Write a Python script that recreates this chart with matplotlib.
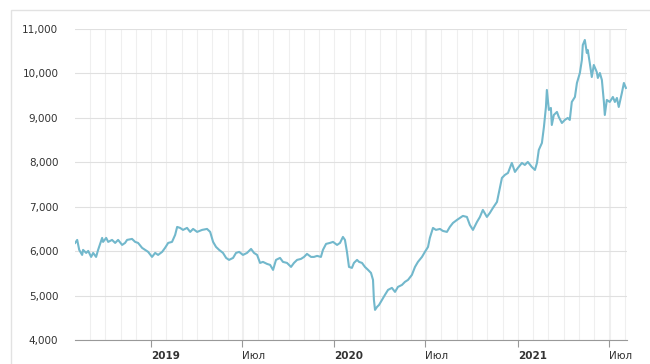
import matplotlib
matplotlib.use("Agg")
import matplotlib.pyplot as plt
from matplotlib.patches import Rectangle
from matplotlib.ticker import FixedLocator, FuncFormatter

# price series (x in decimal years)
years = [2018.586, 2018.597, 2018.608, 2018.624, 2018.629, 2018.646, 2018.657, 2018.673,
         2018.684, 2018.700, 2018.711, 2018.733, 2018.738, 2018.755, 2018.766, 2018.787,
         2018.804, 2018.820, 2018.842, 2018.858, 2018.869, 2018.896, 2018.913, 2018.929,
         2018.951, 2018.967, 2018.984, 2019.005, 2019.022, 2019.038, 2019.060, 2019.076,
         2019.093, 2019.114, 2019.131, 2019.142, 2019.158, 2019.174, 2019.196, 2019.213,
         2019.229, 2019.251, 2019.278, 2019.305, 2019.322, 2019.338, 2019.354, 2019.371,
         2019.392, 2019.409, 2019.425, 2019.447, 2019.463, 2019.480, 2019.501, 2019.523,
         2019.545, 2019.561, 2019.578, 2019.594, 2019.610, 2019.632, 2019.649, 2019.665,
         2019.681, 2019.703, 2019.719, 2019.741, 2019.763, 2019.779, 2019.796, 2019.817,
         2019.834, 2019.850, 2019.872, 2019.888, 2019.905, 2019.926, 2019.937, 2019.954,
         2019.975, 2019.992, 2020.014, 2020.030, 2020.046, 2020.057, 2020.068, 2020.079,
         2020.095, 2020.106, 2020.123, 2020.134, 2020.150, 2020.166, 2020.183, 2020.199,
         2020.210, 2020.215, 2020.221, 2020.232, 2020.243, 2020.259, 2020.275, 2020.292,
         2020.313, 2020.330, 2020.346, 2020.368, 2020.384, 2020.401, 2020.422, 2020.439,
         2020.455, 2020.477, 2020.493, 2020.510, 2020.520, 2020.537, 2020.553, 2020.575,
         2020.591, 2020.613, 2020.629, 2020.646, 2020.668, 2020.684, 2020.700, 2020.722,
         2020.738, 2020.755, 2020.777, 2020.793, 2020.809, 2020.831, 2020.847, 2020.864,
         2020.886, 2020.896, 2020.913, 2020.929, 2020.946, 2020.967, 2020.984, 2021.000,
         2021.022, 2021.038, 2021.054, 2021.076, 2021.093, 2021.104, 2021.114, 2021.131,
         2021.142, 2021.153, 2021.158, 2021.169, 2021.180, 2021.185, 2021.196, 2021.213,
         2021.223, 2021.240, 2021.256, 2021.272, 2021.283, 2021.294, 2021.311, 2021.322,
         2021.338, 2021.349, 2021.354, 2021.365, 2021.376, 2021.381, 2021.392, 2021.403,
         2021.414, 2021.430, 2021.436, 2021.447, 2021.458, 2021.469, 2021.474, 2021.485,
         2021.501, 2021.518, 2021.529, 2021.540, 2021.550, 2021.567, 2021.578, 2021.589]
prices = [6185, 6253, 6028, 5915, 6028, 5960, 6005, 5870,
          5960, 5870, 6028, 6298, 6208, 6298, 6208, 6253,
          6185, 6253, 6140, 6185, 6253, 6275, 6208, 6185,
          6073, 6028, 5983, 5870, 5960, 5915, 5983, 6073,
          6185, 6208, 6365, 6545, 6523, 6478, 6523, 6433,
          6500, 6433, 6478, 6500, 6433, 6208, 6095, 6028,
          5960, 5848, 5803, 5848, 5960, 5983, 5915, 5960,
          6050, 5960, 5915, 5735, 5758, 5713, 5690, 5578,
          5803, 5848, 5758, 5735, 5645, 5735, 5803, 5825,
          5870, 5938, 5870, 5870, 5893, 5870, 6028, 6163,
          6185, 6208, 6140, 6185, 6320, 6253, 5983, 5645,
          5623, 5735, 5803, 5758, 5735, 5645, 5578, 5510,
          5353, 4903, 4678, 4745, 4790, 4903, 5015, 5128,
          5173, 5083, 5195, 5240, 5308, 5353, 5465, 5645,
          5758, 5870, 5983, 6095, 6298, 6523, 6478, 6500,
          6455, 6433, 6545, 6635, 6703, 6748, 6793, 6770,
          6590, 6478, 6658, 6770, 6928, 6770, 6860, 6973,
          7108, 7310, 7648, 7715, 7760, 7985, 7783, 7873,
          7985, 7940, 8008, 7895, 7828, 7985, 8278, 8435,
          8795, 9245, 9628, 9178, 9223, 8840, 9065, 9133,
          9020, 8885, 8953, 8998, 8953, 9358, 9470, 9785,
          10010, 10303, 10640, 10753, 10460, 10528, 10235, 9920,
          10190, 10033, 9898, 10010, 9853, 9358, 9065, 9403,
          9358, 9470, 9358, 9448, 9245, 9560, 9785, 9673]

y_ticks = [4000, 5000, 6000, 7000, 8000, 9000, 10000, 11000]
x_ticks = [2019.0, 2019.496, 2020.0, 2020.496, 2021.0, 2021.496]
x_labels = ["2019", "Июл", "2020", "Июл", "2021", "Июл"]

LINE = "#72b8cc"
TXT = "#333333"

fig = plt.figure(figsize=(6.5, 3.64), dpi=100, facecolor="white")
# outer frame of the widget
fig.patches.append(Rectangle((11 / 650, -0.05), 1.0, 1.05 - 10 / 364,
                             transform=fig.transFigure, fill=False,
                             edgecolor="#e2e2e2", lw=1.0))

ax = fig.add_axes([75 / 650, 1 - 340 / 364, 552 / 650, 311 / 364])
ax.plot(years, prices, color=LINE, lw=1.5, solid_joinstyle="round")

ax.set_xlim(2018.585, 2021.595)
ax.set_ylim(4000, 11000)

# monthly vertical grid, horizontal grid every 1000
months = [y + m / 12 for y in (2018, 2019, 2020, 2021) for m in range(12)]
ax.xaxis.set_minor_locator(FixedLocator(months))
ax.grid(axis="x", which="minor", color="#efefef", lw=0.8)
ax.grid(axis="x", which="major", color="#efefef", lw=0.8)
ax.grid(axis="y", color="#e0e0e0", lw=0.8)
ax.set_axisbelow(True)

ax.set_yticks(y_ticks)
ax.yaxis.set_major_formatter(FuncFormatter(lambda v, p: f"{int(v):,}"))
ax.tick_params(axis="y", length=0, pad=12, labelsize=7.5, labelcolor=TXT)

ax.set_xticks(x_ticks)
ax.set_xticklabels(x_labels)
ax.tick_params(axis="x", which="major", length=5, width=0.8, color="#999999",
               pad=3, labelsize=7.5, labelcolor=TXT)
ax.tick_params(axis="x", which="minor", length=0)
for lbl in ax.get_xticklabels():
    lbl.set_horizontalalignment("left")
    if lbl.get_text().isdigit():
        lbl.set_fontweight("bold")

for s in ("top", "right", "left"):
    ax.spines[s].set_visible(False)
ax.spines["bottom"].set_color("#999999")
ax.spines["bottom"].set_linewidth(0.8)

fig.savefig("out.png", dpi=100, facecolor="white")
